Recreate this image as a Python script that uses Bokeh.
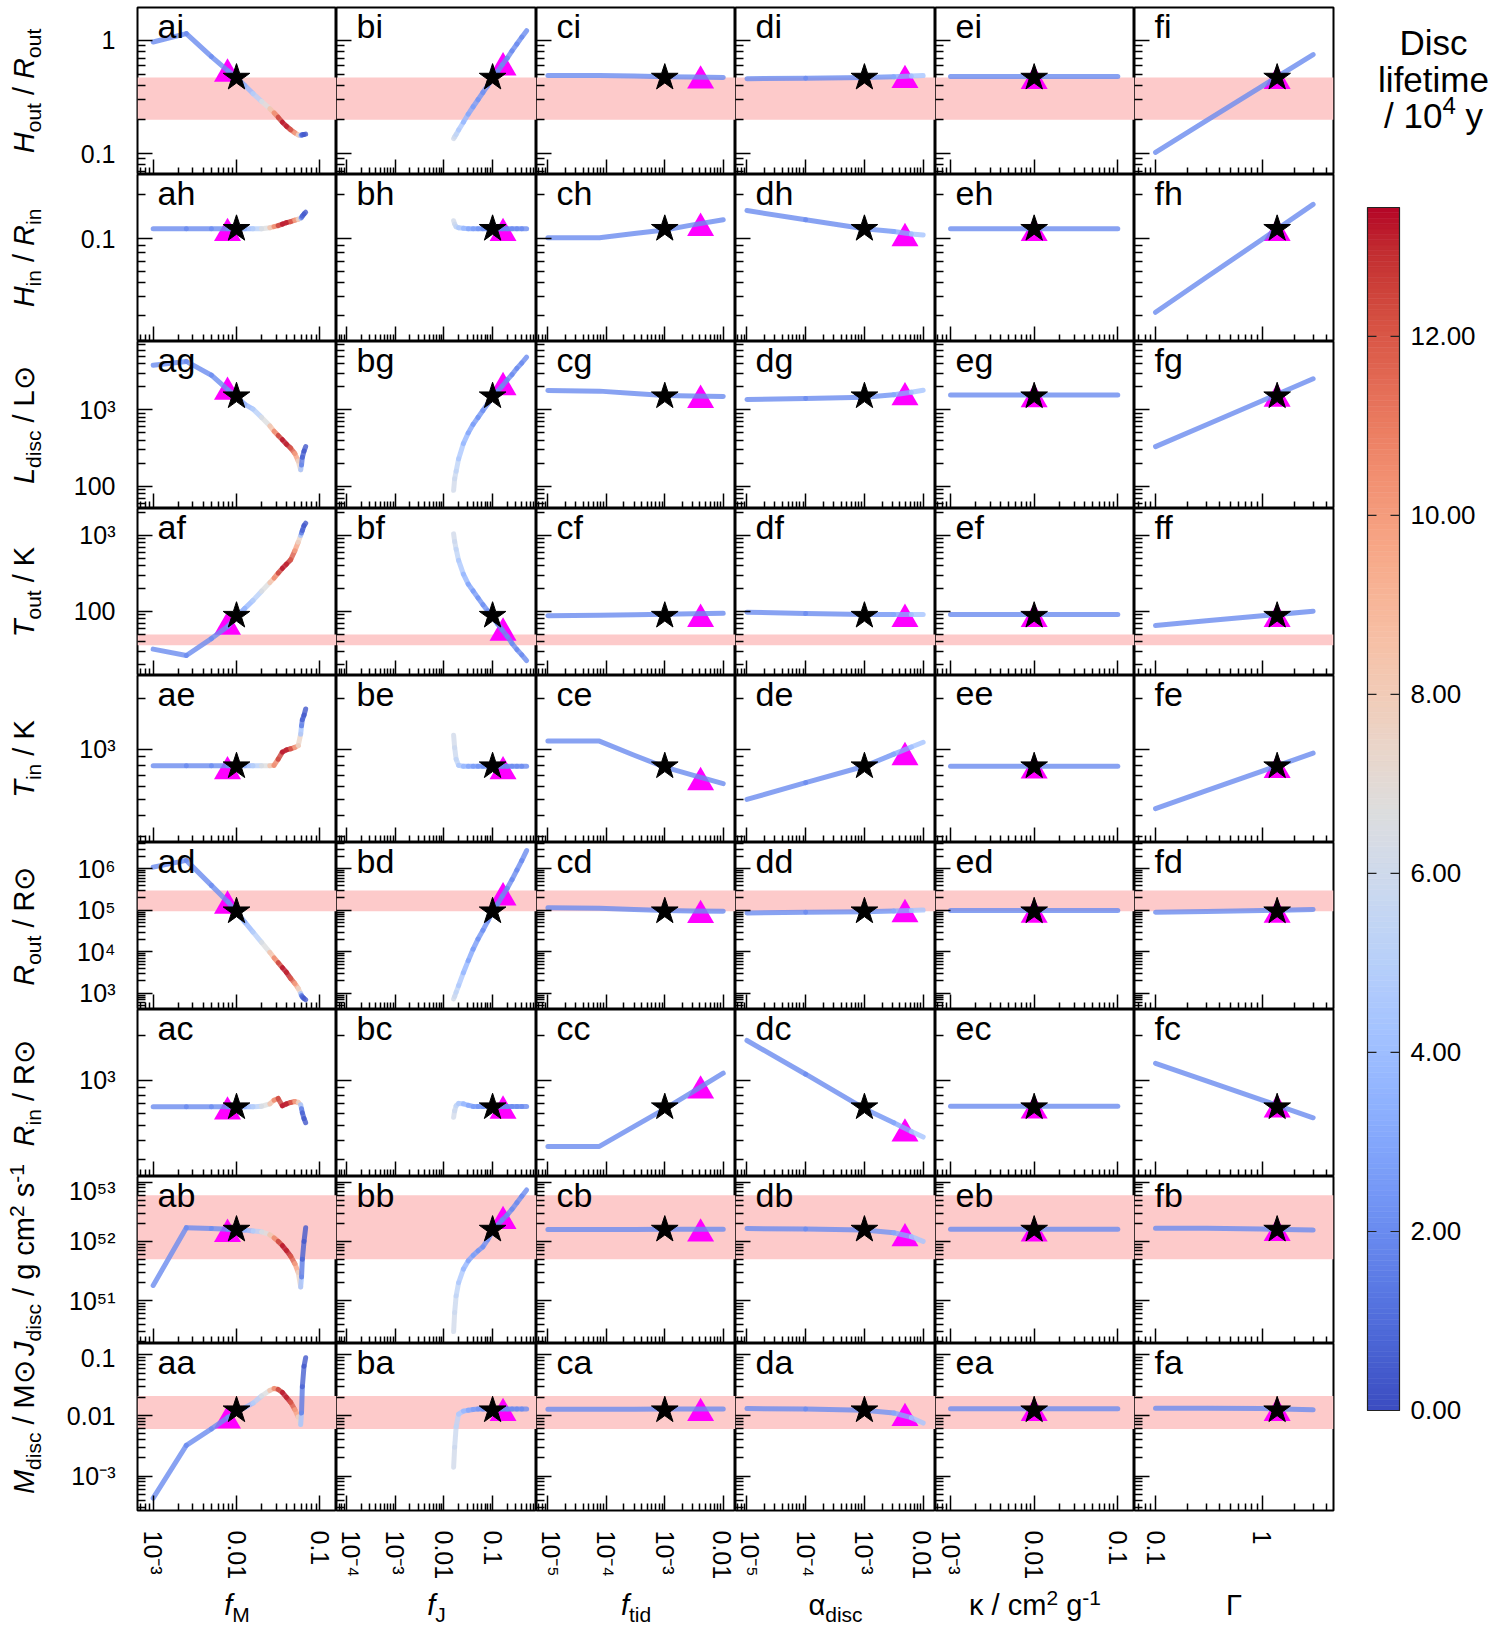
import math
from bokeh.plotting import figure
from bokeh.models import FixedTicker, CustomJSTickFormatter, Range1d, BoxAnnotation, Label
from bokeh.layouts import gridplot, row, column
from bokeh.embed import file_html
from bokeh.resources import INLINE
from bokeh.core.properties import value

FONT = "Liberation Sans"

# ------------------------------------------------------------------ data
# rows top->bottom: i h g f e d c b a ; columns: a b c d e f
# column a : f_M
fM = [0.001, 0.0025, 0.005, 0.0079, 0.01, 0.0126, 0.0158, 0.02, 0.0251, 0.0282, 0.0316,
      0.0355, 0.0398, 0.0447, 0.0501, 0.055, 0.0589, 0.0603, 0.0617, 0.0646, 0.0676]
life_a = [2.0, 2.0, 2.0, 2.1, 2.4, 3.2, 4.3, 5.8, 7.5, 9.5, 12.0, 13.2, 13.4, 12.8, 11.0, 8.5,
          6.5, 2.0, 0.8, 0.4, 0.3]
ai_y = [0.97, 1.15, 0.72, 0.54, 0.47, 0.40, 0.34, 0.29, 0.25, 0.23, 0.21, 0.19, 0.175, 0.163,
        0.153, 0.147, 0.145, 0.146, 0.147, 0.148, 0.149]
ah_y = [0.117, 0.117, 0.117, 0.117, 0.117, 0.117, 0.117, 0.117, 0.119, 0.121, 0.123, 0.126,
        0.129, 0.131, 0.134, 0.136, 0.138, 0.140, 0.143, 0.148, 0.152]
ag_y = [3800, 4270, 2820, 1820, 1480, 1175, 1020, 795, 617, 525, 462, 407, 355, 316, 269, 215,
        165, 190, 240, 290, 331]
af_y = [32, 26.4, 44, 64, 86, 110, 140, 185, 240, 275, 320, 370, 420, 480, 630, 815, 1000,
        1080, 1165, 1350, 1450]
ae_y = [795, 795, 795, 795, 795, 795, 795, 795, 795, 800, 870, 960, 990, 1005, 1025, 1050,
        1230, 1380, 1500, 1600, 1740]
ad_y = [1.1e6, 1.6e6, 4.0e5, 1.6e5, 9.1e4, 5.2e4, 3.0e4, 1.7e4, 9.8e3, 7.2e3, 5.5e3, 4.2e3,
        3.2e3, 2.3e3, 1.74e3, 1.32e3, 1.0e3, 890, 830, 760, 710]
ac_y = [670, 670, 670, 670, 670, 670, 670, 675, 700, 740, 760, 680, 700, 715, 725, 715, 690,
        650, 610, 560, 525]
ab_y = [1.8e51, 1.7e52, 1.65e52, 1.6e52, 1.57e52, 1.55e52, 1.5e52, 1.45e52, 1.3e52, 1.15e52,
        1.0e52, 8.5e51, 7.0e51, 5.6e51, 4.2e51, 3.0e51, 1.7e51, 2.5e51, 5.0e51, 1.0e52, 1.7e52]
aa_y = [4.3e-4, 3.2e-3, 6.0e-3, 9.3e-3, 0.0114, 0.0135, 0.016, 0.021, 0.026, 0.028, 0.027,
        0.024, 0.020, 0.0165, 0.0125, 0.0095, 0.0071, 0.011, 0.030, 0.065, 0.090]

# column b : f_J
fJ = [0.0158, 0.0166, 0.0178, 0.02, 0.0251, 0.0316, 0.0398, 0.0501, 0.0631, 0.0794, 0.1,
      0.126, 0.158, 0.2, 0.251, 0.316, 0.398, 0.501]
life_b = [6.2, 6.0, 5.6, 5.0, 4.0, 3.2, 2.7, 2.4, 2.2, 2.1, 2.0, 2.0, 2.0, 2.0, 2.0, 2.0, 2.0, 2.0]
bi_y = [0.136, 0.141, 0.148, 0.162, 0.19, 0.224, 0.26, 0.30, 0.347, 0.40, 0.46, 0.53, 0.61,
        0.70, 0.81, 0.93, 1.07, 1.22]
bh_y = [0.133, 0.126, 0.121, 0.119, 0.118, 0.117, 0.117, 0.117, 0.117, 0.117, 0.117, 0.117,
        0.117, 0.117, 0.117, 0.117, 0.117, 0.117]
bg_y = [89, 126, 158, 229, 363, 500, 646, 794, 977, 1200, 1460, 1740, 2040, 2450, 2880, 3470,
        4070, 4850]
bf_y = [1050, 830, 660, 470, 310, 229, 186, 151, 123, 102, 84, 69, 57, 47, 38, 31.6, 26.9, 22.6]
be_y = [1210, 1020, 870, 800, 790, 790, 790, 790, 790, 790, 790, 790, 790, 790, 790, 790, 790, 790]
bd_y = [740, 850, 1070, 1550, 3160, 6170, 1.17e4, 2.04e4, 3.3e4, 5.5e4, 9.0e4, 1.41e5, 2.2e5,
        3.4e5, 5.5e5, 9.3e5, 1.58e6, 2.75e6]
bc_y = [570, 630, 680, 705, 700, 685, 673, 673, 673, 673, 673, 673, 673, 673, 673, 673, 673, 673]
bb_y = [3.0e50, 6.3e50, 1.2e51, 2.0e51, 3.4e51, 4.7e51, 5.8e51, 6.9e51, 8.1e51, 1.07e52, 1.5e52,
        1.86e52, 2.3e52, 2.8e52, 3.5e52, 4.5e52, 5.8e52, 7.4e52]
ba_y = [1.4e-3, 3.0e-3, 6.5e-3, 0.0105, 0.0118, 0.0122, 0.0126, 0.0128, 0.0128, 0.0128, 0.0128,
        0.0128, 0.0128, 0.0128, 0.0128, 0.0128, 0.0128, 0.0128]

# column c : f_tid
ftid = [1e-5, 7.6e-5, 3e-4, 1e-3, 3e-3, 1e-2]
life_c = [2.0, 2.0, 2.0, 2.0, 2.0, 2.0]
ci_y = [0.49, 0.49, 0.485, 0.478, 0.475, 0.472]
ch_y = [0.1016, 0.1016, 0.1086, 0.115, 0.1245, 0.135]
cg_y = [1790, 1750, 1630, 1535, 1513, 1490]
cf_y = [88, 89, 90.5, 92, 93.5, 95]
ce_y = [1117, 1117, 920, 780, 698, 621]
cd_y = [1.15e5, 1.12e5, 1.05e5, 1.0e5, 9.7e4, 9.5e4]
cc_y = [366, 366, 496, 648, 840, 1117]
cb_y = [1.59e52, 1.59e52, 1.59e52, 1.6e52, 1.6e52, 1.6e52]
ca_y = [0.0127, 0.0127, 0.0127, 0.0128, 0.0128, 0.0128]

# column d : alpha_disc
alpha_disc = [1e-5, 1e-4, 1e-3, 3.16e-3, 6.3e-3, 1e-2]
life_d = [2.0, 2.0, 2.0, 2.6, 3.6, 5.0]
di_y = [0.46, 0.465, 0.47, 0.478, 0.485, 0.49]
dh_y = [0.156, 0.135, 0.117, 0.112, 0.108, 0.106]
dg_y = [1360, 1400, 1460, 1570, 1690, 1800]
df_y = [98, 94, 91, 91, 91, 91]
de_y = [500, 630, 790, 933, 1030, 1100]
dd_y = [8.7e4, 9.0e4, 9.3e4, 9.6e4, 9.9e4, 1.02e5]
dc_y = [1840, 1100, 650, 525, 459, 422]
db_y = [1.65e52, 1.62e52, 1.55e52, 1.4e52, 1.2e52, 1.0e52]
da_y = [0.013, 0.0128, 0.0122, 0.011, 0.0092, 0.0075]

# column e : kappa
kappa = [1e-3, 0.01, 0.1]
life_e = [2.0, 2.0, 2.0]
ei_y = [0.48, 0.48, 0.48]
eh_y = [0.117, 0.117, 0.117]
eg_y = [1560, 1560, 1560]
ef_y = [91, 91, 91]
ee_y = [790, 790, 790]
ed_y = [1.0e5, 1.0e5, 1.0e5]
ec_y = [675, 675, 675]
eb_y = [1.6e52, 1.6e52, 1.6e52]
ea_y = [0.0129, 0.0129, 0.0129]

# column f : Gamma
gamma = [0.1, 0.3, 1.0, 3.0]
life_f = [2.0, 2.0, 2.0, 2.0]
fi_y = [0.103, 0.196, 0.396, 0.75]
fh_y = [0.0314, 0.0545, 0.0993, 0.172]
fg_y = [331, 639, 1312, 2535]
ff_y = [65.5, 75.3, 87.7, 101]
fe_y = [440, 564, 739, 946]
fd_y = [9.0e4, 9.4e4, 9.9e4, 1.05e5]
fc_y = [1300, 995, 741, 566]
fb_y = [1.66e52, 1.66e52, 1.62e52, 1.55e52]
fa_y = [0.0132, 0.0132, 0.013, 0.0124]

# fiducial model (stars) and comparison model (triangles)
star_x = [0.01, 0.1, 1e-3, 1e-3, 0.01, 1.38]
star_y = [0.47, 0.117, 1500, 88, 790, 9.5e4, 665, 1.58e52, 0.0122]
tri_x = [0.0078, 0.164, 4.1e-3, 4.9e-3, 0.01, 1.38]
tri_y_a = [0.555, 0.117, 1950, 72, 782, 1.65e5, 665, 1.58e52, 0.0097]
tri_y_b = [0.63, 0.117, 2240, 60, 782, 2.6e5, 673, 2.6e52, 0.0129]
tri_y_c = [0.483, 0.127, 1530, 91, 673, 9.8e4, 915, 1.6e52, 0.0129]
tri_y_d = [0.488, 0.108, 1655, 91, 950, 1.03e5, 475, 1.33e52, 0.0107]
tri_y_e = [0.48, 0.117, 1560, 91, 790, 1.0e5, 675, 1.6e52, 0.0129]
tri_y_f = [0.478, 0.117, 1585, 91, 795, 1.0e5, 685, 1.63e52, 0.0130]

# observational bands (None = no band)
band_lo = [0.2, None, None, 36, None, 9.5e4, None, 5e51, 0.006]
band_hi = [0.47, None, None, 50, None, 3.0e5, None, 6e52, 0.021]

# axis limits (log10) and tick labels
x_lim = [(-3.188, -0.80), (-4.21, -0.097), (-5.195, -1.79), (-5.195, -1.79), (-3.18, -0.80),
         (-1.197, 0.668)]
y_lim = [(-1.183, 0.291), (-1.703, -0.56), (1.713, 3.89), (1.158, 3.355), (2.441, 3.441),
         (2.614, 6.634), (2.364, 3.47), (50.275, 53.096), (-3.57, -0.81)]
x_tick_exp = [[-3, -2, -1], [-4, -3, -2, -1], [-5, -4, -3, -2], [-5, -4, -3, -2], [-3, -2, -1],
              [-1, 0]]
x_tick_lab = [["10⁻³", "0.01", "0.1"], ["10⁻⁴", "10⁻³", "0.01", "0.1"],
              ["10⁻⁵", "10⁻⁴", "10⁻³", "0.01"], ["10⁻⁵", "10⁻⁴", "10⁻³", "0.01"],
              ["10⁻³", "0.01", "0.1"], ["0.1", "1"]]
y_tick_exp = [[-1, 0], [-1], [2, 3], [2, 3], [3], [3, 4, 5, 6], [3], [51, 52, 53], [-3, -2, -1]]
y_tick_lab = [["0.1", "1"], ["0.1"], ["100", "10³"], ["100", "10³"], ["10³"],
              ["10³", "10⁴", "10⁵", "10⁶"], ["10³"], ["10⁵¹", "10⁵²", "10⁵³"],
              ["10⁻³", "0.01", "0.1"]]

row_names = ["i", "h", "g", "f", "e", "d", "c", "b", "a"]
col_names = ["a", "b", "c", "d", "e", "f"]

cbar_max = 13.44
cbar_ticks = [0, 2, 4, 6, 8, 10, 12]
cbar_tick_labels = ["0.00", "2.00", "4.00", "6.00", "8.00", "10.00", "12.00"]

# tables built from the named arrays
XS = [fM, fJ, ftid, alpha_disc, kappa, gamma]
LIFE = [life_a, life_b, life_c, life_d, life_e, life_f]
YS = [[ai_y, ah_y, ag_y, af_y, ae_y, ad_y, ac_y, ab_y, aa_y],
      [bi_y, bh_y, bg_y, bf_y, be_y, bd_y, bc_y, bb_y, ba_y],
      [ci_y, ch_y, cg_y, cf_y, ce_y, cd_y, cc_y, cb_y, ca_y],
      [di_y, dh_y, dg_y, df_y, de_y, dd_y, dc_y, db_y, da_y],
      [ei_y, eh_y, eg_y, ef_y, ee_y, ed_y, ec_y, eb_y, ea_y],
      [fi_y, fh_y, fg_y, ff_y, fe_y, fd_y, fc_y, fb_y, fa_y]]
TRI_Y = [tri_y_a, tri_y_b, tri_y_c, tri_y_d, tri_y_e, tri_y_f]

# ------------------------------------------------------------------ styling helpers
COOLWARM = [(59, 76, 192), (68, 90, 204), (77, 104, 215), (87, 117, 225), (98, 130, 234),
            (108, 142, 241), (119, 154, 247), (130, 165, 251), (141, 176, 254), (152, 185, 255),
            (163, 194, 255), (174, 201, 253), (184, 208, 249), (194, 213, 244), (204, 217, 238),
            (213, 219, 230), (221, 221, 221), (229, 216, 209), (236, 211, 197), (241, 204, 184),
            (245, 196, 172), (247, 187, 159), (247, 177, 147), (247, 166, 134), (244, 154, 123),
            (241, 141, 111), (236, 127, 99), (229, 112, 89), (222, 96, 77), (213, 80, 66),
            (203, 62, 56), (192, 40, 47), (180, 4, 38)]


def cmap(v):
    t = min(max(v / cbar_max, 0.0), 1.0) * (len(COOLWARM) - 1)
    i = int(t)
    if i >= len(COOLWARM) - 1:
        c = COOLWARM[-1]
    else:
        f = t - i
        c = [COOLWARM[i][k] * (1 - f) + COOLWARM[i + 1][k] * f for k in range(3)]
    return "#%02x%02x%02x" % tuple(int(round(x)) for x in c)


WID = {' ': 0.278, '/': 0.278, 'H': 0.722, 'R': 0.722, 'L': 0.556, 'T': 0.611, 'M': 0.833,
       'J': 0.5, 'K': 0.667, 'o': 0.556, 'u': 0.556, 't': 0.278, 'i': 0.222, 'n': 0.556,
       'd': 0.556, 's': 0.5, 'c': 0.5, 'g': 0.556, 'm': 0.833, 'f': 0.278, 'y': 0.5,
       '-': 0.333, '⊙': 0.84, 'α': 0.578, 'κ': 0.5, 'Γ': 0.556, 'D': 0.722, 'l': 0.222,
       'e': 0.556}
LIFT = 0.38   # empirical correction of the rendered text baseline (fraction of font size)


def tw(s, size):
    return sum(WID.get(ch, 0.556) for ch in s) * size


def layout_pieces(pieces):
    """(core_text, size, italic, shift, start_offset) with the run centred on 0."""
    total = sum(tw(t, s) for t, s, it, sh in pieces)
    pos = -total / 2.0
    out = []
    for t, s, it, sh in pieces:
        lead = len(t) - len(t.lstrip(" "))
        core = t.strip(" ")
        if core:
            out.append((core, s, it, sh, pos + tw(" " * lead, s)))
        pos += tw(t, s)
    return out


def put_text(p, x, y, txt, s, it=False, angle=0.0, align="left"):
    p.text(x=[x], y=[y], text=[txt], angle=angle, text_font=value(FONT),
           text_font_size=value("%dpx" % s), text_font_style=value("italic" if it else "normal"),
           text_align=value(align), text_baseline=value("alphabetic"), text_color="black")


def log_ticks(lo, hi):
    major, minor = [], []
    for d in range(math.floor(lo) - 1, math.ceil(hi) + 1):
        v = 10.0 ** d
        if lo - 1e-9 <= d <= hi + 1e-9:
            major.append(v)
        for k in range(2, 10):
            if lo <= math.log10(k) + d <= hi:
                minor.append(k * v)
    return major, minor


def blank(w, h, xr, yr):
    f = figure(width=w, height=h, x_range=Range1d(*xr), y_range=Range1d(*yr),
               toolbar_location=None, output_backend="svg", title=None,
               x_axis_location=None, y_axis_location=None,
               min_border_left=0, min_border_right=0, min_border_top=0, min_border_bottom=0)
    f.grid.visible = False
    f.outline_line_color = None
    return f


FMT_CODE = """
const e = Math.round(Math.log10(tick));
const i = exps.indexOf(e);
return i < 0 ? "" : labs[i];
"""

FW = [199, 200, 199, 200, 199, 199]
FH = 167
TOP = 7
BOTTOM_BORDER = 72
LEFT_BORDER = 75
TOTAL_H = 1626
LEFT_W = 62
EDGES = [LEFT_W + LEFT_BORDER]
for w in FW:
    EDGES.append(EDGES[-1] + w)
BAND_COLOR = "#fdcaca"


def make_panel(ci, ri):
    xl, yl = x_lim[ci], y_lim[ri]
    p = figure(frame_width=FW[ci], frame_height=FH, x_axis_type="log", y_axis_type="log",
               x_range=Range1d(10 ** xl[0], 10 ** xl[1]), y_range=Range1d(10 ** yl[0], 10 ** yl[1]),
               toolbar_location=None, output_backend="svg", title=None,
               min_border_left=LEFT_BORDER if ci == 0 else 0, min_border_right=2 if ci == 5 else 0,
               min_border_top=TOP if ri == 0 else 0,
               min_border_bottom=BOTTOM_BORDER if ri == 8 else 0)
    p.grid.visible = False
    p.outline_line_color = "black"
    p.outline_line_width = 2
    p.background_fill_color = "white"
    p.border_fill_color = "white"

    xa, ya = p.xaxis[0], p.yaxis[0]
    mj, mn = log_ticks(*xl)
    xa.ticker = FixedTicker(ticks=mj, minor_ticks=mn)
    mj, mn = log_ticks(*yl)
    ya.ticker = FixedTicker(ticks=mj, minor_ticks=mn)
    for ax in (xa, ya):
        ax.axis_line_color = None
        ax.major_tick_in = 15
        ax.major_tick_out = 0
        ax.minor_tick_in = 7
        ax.minor_tick_out = 0
        ax.major_tick_line_color = "black"
        ax.minor_tick_line_color = "black"
        ax.major_tick_line_width = 1.5
        ax.minor_tick_line_width = 1.5
    ya.minor_tick_in = 8
    if ri == 8:
        xa.formatter = CustomJSTickFormatter(args=dict(exps=x_tick_exp[ci], labs=x_tick_lab[ci]),
                                             code=FMT_CODE)
        xa.major_label_text_font_size = "25px"
        xa.major_label_text_font = FONT
        xa.major_label_text_color = "black"
        xa.major_label_orientation = -math.pi / 2
        xa.major_label_standoff = 20
    else:
        xa.formatter = CustomJSTickFormatter(code="return '';")
        xa.major_label_text_font_size = "0px"
        xa.major_label_standoff = 0
    if ci == 0:
        ya.formatter = CustomJSTickFormatter(args=dict(exps=y_tick_exp[ri], labs=y_tick_lab[ri]),
                                             code=FMT_CODE)
        ya.major_label_text_font_size = "25px"
        ya.major_label_text_font = FONT
        ya.major_label_text_color = "black"
        ya.major_label_standoff = 22
    else:
        ya.formatter = CustomJSTickFormatter(code="return '';")
        ya.major_label_text_font_size = "0px"
        ya.major_label_standoff = 0

    if band_lo[ri] is not None:
        p.add_layout(BoxAnnotation(bottom=band_lo[ri], top=band_hi[ri], fill_color=BAND_COLOR,
                                   fill_alpha=1.0, line_color=None, level="underlay"))

    # bokeh centres the triangle on its centroid; shift so its box centre sits on the value
    tri_shift = 10 ** (-(4.5 / FH) * (yl[1] - yl[0]))
    p.scatter([tri_x[ci]], [TRI_Y[ci][ri] * tri_shift], marker="triangle", size=27,
              fill_color="#ff00ff", line_color=None)

    xs, ys, lf = XS[ci], YS[ci][ri], LIFE[ci]
    if len(set(lf)) == 1:
        p.line(xs, ys, line_color=cmap(lf[0]), line_width=5, line_alpha=0.8,
               line_cap="round", line_join="round")
    else:
        cols = [cmap(0.5 * (lf[k] + lf[k + 1])) for k in range(len(xs) - 1)]
        p.segment(x0=xs[:-1], y0=ys[:-1], x1=xs[1:], y1=ys[1:], line_color=cols,
                  line_width=5, line_alpha=0.8, line_cap="round")

    p.scatter([star_x[ci]], [star_y[ri]], marker="star", size=28, fill_color="black",
              line_color="black")

    lx = 10 ** (xl[0] + 20.0 / FW[ci] * (xl[1] - xl[0]))
    ly = 10 ** (yl[1] - (31.0 - LIFT * 34) / FH * (yl[1] - yl[0]))
    p.add_layout(Label(x=lx, y=ly, text=col_names[ci] + row_names[ri], text_font=FONT,
                       text_font_size="34px", text_color="black", text_align="left",
                       text_baseline="alphabetic"))
    return p


panels = [[make_panel(ci, ri) for ci in range(6)] for ri in range(9)]
grid = gridplot(panels, toolbar_location=None)

# ------------------------------------------------------------------ axis titles
M, S, SUB, SUP = 29, 21, -6, 11
row_titles = [
    [("H", M, True, 0), ("out", S, False, SUB), (" / ", M, False, 0), ("R", M, True, 0), ("out", S, False, SUB)],
    [("H", M, True, 0), ("in", S, False, SUB), (" / ", M, False, 0), ("R", M, True, 0), ("in", S, False, SUB)],
    [("L", M, True, 0), ("disc", S, False, SUB), (" / L⊙", M, False, 0)],
    [("T", M, True, 0), ("out", S, False, SUB), (" / K", M, False, 0)],
    [("T", M, True, 0), ("in", S, False, SUB), (" / K", M, False, 0)],
    [("R", M, True, 0), ("out", S, False, SUB), (" / R⊙", M, False, 0)],
    [("R", M, True, 0), ("in", S, False, SUB), (" / R⊙", M, False, 0)],
    [("J", M, True, 0), ("disc", S, False, SUB), (" / g cm", M, False, 0), ("2", S, False, SUP),
     (" s", M, False, 0), ("-1", S, False, SUP)],
    [("M", M, True, 0), ("disc", S, False, SUB), (" / M⊙", M, False, 0)],
]
col_titles = [
    [("f", M, True, 0), ("M", S, False, SUB)],
    [("f", M, True, 0), ("J", S, False, SUB)],
    [("f", M, True, 0), ("tid", S, False, SUB)],
    [("α", M, False, 0), ("disc", S, False, SUB)],
    [("κ / cm", M, False, 0), ("2", S, False, SUP), (" g", M, False, 0), ("-1", S, False, SUP)],
    [("Γ", M, False, 0)],
]

# left strip: rotated row titles (pixel coordinates, y measured upward)
left = blank(LEFT_W, TOTAL_H, (0, LEFT_W), (0, TOTAL_H))
for r in range(9):
    yc = TOTAL_H - (TOP + FH * (r + 0.5))
    for core, s, it, sh, start in layout_pieces(row_titles[r]):
        put_text(left, 35 - sh - LIFT * s, yc + start, core, s, it, angle=math.pi / 2)

# bottom strip under the grid: column titles
MID_W = LEFT_BORDER + sum(FW) + 2
GRID_H = TOP + 9 * FH + BOTTOM_BORDER
XLAB_H = TOTAL_H - GRID_H
xlab = blank(MID_W, XLAB_H, (0, MID_W), (0, XLAB_H))
for c in range(6):
    xc = 0.5 * (EDGES[c] + EDGES[c + 1]) - LEFT_W
    for core, s, it, sh, start in layout_pieces(col_titles[c]):
        put_text(xlab, xc + start, TOTAL_H - 1616 + sh + LIFT * s, core, s, it)

# ------------------------------------------------------------------ colour bar (own strip)
RIGHT_W = 1511 - LEFT_W - MID_W
X0_PX = LEFT_W + MID_W            # left edge of the strip on the page
BAR_L, BAR_R = 1367, 1399         # page pixels of the bar
BAR_T, BAR_B = 207, 1410
ppu_x = BAR_R - BAR_L             # pixels per x unit (bar spans 0..1)
ppu_y = (BAR_B - BAR_T) / cbar_max
cb = blank(RIGHT_W, TOTAL_H,
           ((X0_PX - BAR_L) / ppu_x, (X0_PX + RIGHT_W - BAR_L) / ppu_x),
           ((BAR_B - TOTAL_H) / ppu_y, BAR_B / ppu_y))
nb = 224
bots = [cbar_max * k / nb for k in range(nb)]
tops = [cbar_max * (k + 1) / nb for k in range(nb)]
ccol = [cmap(cbar_max * (k + 0.5) / nb) for k in range(nb)]
cb.quad(left=0, right=1, bottom=bots, top=tops, fill_color=ccol, line_color=ccol, line_width=0.6)
cb.quad(left=[0], right=[1], bottom=[0], top=[cbar_max], fill_color=None, line_color="#222222",
        line_width=1.2)
tick_len = 9.0 / ppu_x
cb.segment(x0=[0] * len(cbar_ticks), x1=[tick_len] * len(cbar_ticks), y0=cbar_ticks, y1=cbar_ticks,
           line_color="#222222", line_width=1.2)
cb.segment(x0=[1 - tick_len] * len(cbar_ticks), x1=[1] * len(cbar_ticks), y0=cbar_ticks,
           y1=cbar_ticks, line_color="#222222", line_width=1.2)
for v, lab in zip(cbar_ticks, cbar_tick_labels):
    put_text(cb, 1 + 11.0 / ppu_x, v - (0.358 - LIFT) * 26 / ppu_y, lab, 26)

title_lines = [
    (55, [("Disc", 35, False, 0)]),
    (92, [("lifetime", 35, False, 0)]),
    (128, [("/ 10", 35, False, 0), ("4", 24, False, 14), (" y", 35, False, 0)]),
]
for base_y, pieces in title_lines:
    for core, s, it, sh, start in layout_pieces(pieces):
        px = 1433 + start
        py = base_y - sh - LIFT * s
        put_text(cb, (px - BAR_L) / ppu_x, (BAR_B - py) / ppu_y, core, s)

layout = row(left, column(grid, xlab), cb)

open("out.html", "w").write(file_html(layout, INLINE, title="disc parameters"))
